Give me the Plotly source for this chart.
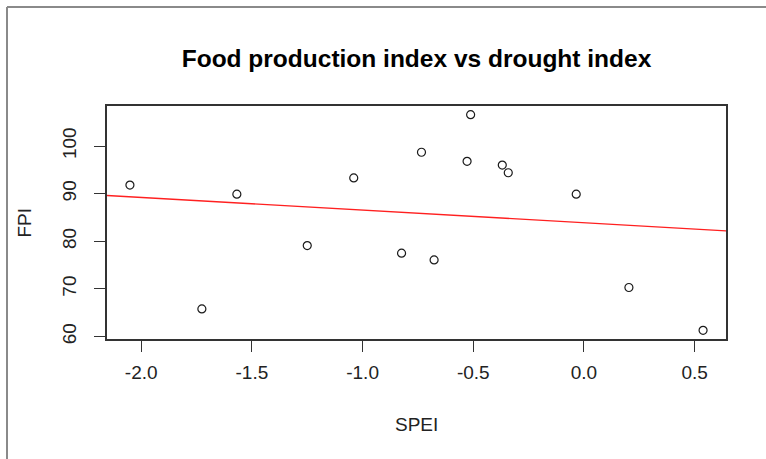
import numpy as np
import plotly.graph_objects as go

# ---- data ----
SPEI = [-2.051, -1.726, -1.568, -1.250, -1.040, -0.824, -0.734, -0.677,
        -0.528, -0.512, -0.369, -0.342, -0.035, 0.203, 0.538]
FPI = [91.8, 65.8, 89.9, 79.1, 93.3, 77.5, 98.7, 76.1,
       96.8, 106.6, 96.0, 94.4, 89.9, 70.3, 61.3]
X_TICKS = [-2.0, -1.5, -1.0, -0.5, 0.0, 0.5]
X_TICK_LABELS = ["-2.0", "-1.5", "-1.0", "-0.5", "0.0", "0.5"]
Y_TICKS = [60, 70, 80, 90, 100]
Y_TICK_LABELS = ["60", "70", "80", "90", "100"]
TITLE = "Food production index vs drought index"
X_TITLE = "SPEI"
Y_TITLE = "FPI"

# ---- layout constants ----
W, H = 766, 459
ML, MR, MT, MB = 107, 40, 106, 120
PW, PH = W - ML - MR, H - MT - MB


def px_x(p):
    return (p - ML) / PW


def px_y(p):
    return (H - MB - p) / PH


x = np.array(SPEI)
y = np.array(FPI)
# R-style 4% axis padding
xr = x.max() - x.min()
yr = y.max() - y.min()
xrange = [x.min() - 0.04 * xr, x.max() + 0.04 * xr]
yrange = [y.min() - 0.04 * yr, y.max() + 0.04 * yr]

slope, intercept = np.polyfit(x, y, 1)
line_x = np.array(xrange)
line_y = intercept + slope * line_x

fig = go.Figure()
fig.add_trace(go.Scatter(
    x=SPEI, y=FPI, mode="markers",
    marker=dict(symbol="circle-open", size=8, color="#1a1a1a",
                line=dict(width=1.2, color="#1a1a1a")),
    showlegend=False, hoverinfo="x+y"))
fig.add_trace(go.Scatter(
    x=line_x, y=line_y, mode="lines",
    line=dict(color="#ff2020", width=1.4),
    showlegend=False, hoverinfo="skip"))

FONT = "Liberation Sans, Arial, sans-serif"
axis_common = dict(
    showgrid=False, zeroline=False,
    showline=True, linecolor="#333333", linewidth=1.5, mirror=True,
    ticks="outside", ticklen=11, tickwidth=1.3, tickcolor="#333333",
    tickfont=dict(family=FONT, size=19, color="#222222"),
)

fig.update_layout(
    width=W, height=H,
    margin=dict(l=ML, r=MR, t=MT, b=MB),
    paper_bgcolor="white", plot_bgcolor="white",
    title=dict(text="<b>" + TITLE + "</b>",
               font=dict(family=FONT, size=24.5, color="#000000"),
               x=(ML + PW / 2) / W, xanchor="center", xref="container",
               y=1 - 58 / H, yanchor="middle", yref="container"),
    xaxis=dict(range=xrange, tickvals=X_TICKS, ticktext=X_TICK_LABELS,
               ticklabelstandoff=4, **axis_common),
    yaxis=dict(range=yrange, tickvals=Y_TICKS, ticktext=Y_TICK_LABELS,
               tickangle=-90, ticklabelstandoff=11, **axis_common),
    annotations=[
        dict(text=X_TITLE, x=0.5, y=px_y(424), xref="paper", yref="paper",
             showarrow=False, xanchor="center", yanchor="middle",
             font=dict(family=FONT, size=19, color="#222222")),
        dict(text=Y_TITLE, x=px_x(24), y=0.5, xref="paper", yref="paper",
             showarrow=False, xanchor="center", yanchor="middle",
             textangle=-90,
             font=dict(family=FONT, size=19, color="#222222")),
    ],
    shapes=[
        dict(type="line", xref="paper", yref="paper",
             x0=px_x(7), x1=px_x(W + 10), y0=px_y(7), y1=px_y(7),
             line=dict(color="#8a8a8a", width=2)),
        dict(type="line", xref="paper", yref="paper",
             x0=px_x(7), x1=px_x(7), y0=px_y(7), y1=px_y(H + 10),
             line=dict(color="#8a8a8a", width=2)),
    ],
)

fig.write_html("out.html",
               config={"displayModeBar": False},
               post_script="document.body.style.margin='0px';"
                           "document.body.style.overflow='hidden';")
